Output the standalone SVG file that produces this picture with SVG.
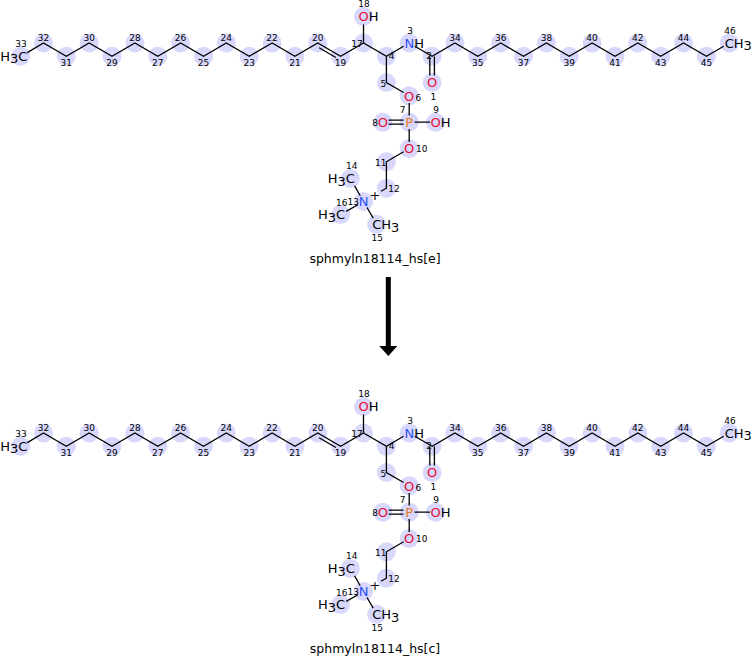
<svg xmlns="http://www.w3.org/2000/svg" width="751" height="656" viewBox="0 0 751 656">
<style>
.hl circle{fill:#d8d8fc}
.bd{fill:none;stroke:#000;stroke-width:1.3;stroke-linejoin:miter}
.at{font-family:"DejaVu Sans","Liberation Sans",sans-serif;font-size:13px;fill:#000}
.am{text-anchor:middle}
.ae{text-anchor:end}
.O{fill:#e60d2e}
.N{fill:#3050f8}
.P{fill:#e87820}
.nm{font-family:"DejaVu Sans","Liberation Sans",sans-serif;font-size:9px;fill:#000;text-anchor:middle}
.lbl{font-family:"DejaVu Sans","Liberation Sans",sans-serif;font-size:12.5px;fill:#000;text-anchor:middle}
</style>
<rect width="751" height="656" fill="#fff"/>

<g id="mol-e">
<g class="hl">
<circle cx="20.6" cy="56.2" r="9.5"/><circle cx="43.5" cy="43" r="9.5"/><circle cx="66.3" cy="56.2" r="9.5"/><circle cx="89.2" cy="43" r="9.5"/><circle cx="112" cy="56.2" r="9.5"/><circle cx="134.9" cy="43" r="9.5"/><circle cx="157.8" cy="56.2" r="9.5"/><circle cx="180.6" cy="43" r="9.5"/><circle cx="203.5" cy="56.2" r="9.5"/><circle cx="226.3" cy="43" r="9.5"/><circle cx="249.2" cy="56.2" r="9.5"/><circle cx="272.1" cy="43" r="9.5"/><circle cx="294.9" cy="56.2" r="9.5"/><circle cx="317.8" cy="43" r="9.5"/><circle cx="340.6" cy="56.2" r="9.5"/><circle cx="363.5" cy="43" r="9.5"/><circle cx="386.4" cy="56.2" r="9.5"/><circle cx="409.2" cy="43" r="9.5"/><circle cx="432.1" cy="56.2" r="9.5"/><circle cx="454.9" cy="43" r="9.5"/><circle cx="477.8" cy="56.2" r="9.5"/><circle cx="500.7" cy="43" r="9.5"/><circle cx="523.5" cy="56.2" r="9.5"/><circle cx="546.4" cy="43" r="9.5"/><circle cx="569.2" cy="56.2" r="9.5"/><circle cx="592.1" cy="43" r="9.5"/><circle cx="615" cy="56.2" r="9.5"/><circle cx="637.8" cy="43" r="9.5"/><circle cx="660.7" cy="56.2" r="9.5"/><circle cx="683.5" cy="43" r="9.5"/><circle cx="706.4" cy="56.2" r="9.5"/><circle cx="729.3" cy="43" r="9.5"/>
<circle cx="363.5" cy="16.6" r="9.5"/><circle cx="386.4" cy="82.6" r="9.5"/><circle cx="409.2" cy="95.8" r="9.5"/><circle cx="432.1" cy="82.6" r="9.5"/><circle cx="409.2" cy="122.2" r="9.5"/><circle cx="382.8" cy="122.2" r="9.5"/><circle cx="435.6" cy="122.2" r="9.5"/><circle cx="409.2" cy="148.6" r="9.5"/><circle cx="386.4" cy="161.8" r="9.5"/><circle cx="386.4" cy="188.2" r="9.5"/><circle cx="363.5" cy="201.4" r="9.5"/><circle cx="350.3" cy="178.5" r="9.5"/><circle cx="340.6" cy="214.6" r="9.5"/><circle cx="376.7" cy="224.3" r="9.5"/>
</g>
<path class="bd" d="M27.3,52.6 L43.5,43 L66.3,56.2 L89.2,43 L112,56.2 L134.9,43 L157.8,56.2 L180.6,43 L203.5,56.2 L226.3,43 L249.2,56.2 L272.1,43 L294.9,56.2 L317.8,43 L340.6,56.2 L363.5,43 L386.4,56.2 L403.6,46.3"/>
<path class="bd" d="M414.8,46.3 L432.1,56.2 L454.9,43 L477.8,56.2 L500.7,43 L523.5,56.2 L546.4,43 L569.2,56.2 L592.1,43 L615,56.2 L637.8,43 L660.7,56.2 L683.5,43 L706.4,56.2 L723.7,46.3"/>
<path class="bd" d="M319.1,47.8 L335.9,57.5 M363.5,43 V24.5 M386.4,56.2 V82.6 L403.6,92.5 M429.8,56.5 V75.5 M434.4,56.5 V75.5 M409.2,103 V115.5 M388.5,120.2 H403.5 M388.5,124.2 H403.5 M414.5,122.2 H430 M409.2,129 V142 M403.6,151.8 L386.4,161.8 V188.2 L381,191.3 M360.2,195.8 L354.6,185.9 M357.9,204.7 L346.2,211.4 M367,207.5 L373.2,218.2"/>
<g class="at">
<text class="ae" x="27.4" y="60.9">H<tspan dy="2.5">3</tspan><tspan dy="-2.5">C</tspan></text>
<text x="724.7" y="47.7">CH<tspan dy="2.5">3</tspan></text>
<text x="358.4" y="21.3"><tspan class="O">O</tspan>H</text>
<text x="404.4" y="47.7"><tspan class="N">N</tspan>H</text>
<text class="am O" x="432.1" y="87.3">O</text>
<text class="am O" x="409.2" y="100.5">O</text>
<text class="am P" x="409.2" y="126.9">P</text>
<text class="am O" x="382.8" y="126.9">O</text>
<text x="430.5" y="126.9"><tspan class="O">O</tspan>H</text>
<text class="am O" x="409.2" y="153.3">O</text>
<text class="am N" x="363.5" y="206.1">N</text>
<text class="am" x="375" y="199.5">+</text>
<text class="ae" x="354.8" y="183.2">H<tspan dy="2.5">3</tspan><tspan dy="-2.5">C</tspan></text>
<text class="ae" x="345.1" y="219.3">H<tspan dy="2.5">3</tspan><tspan dy="-2.5">C</tspan></text>
<text x="372.2" y="229">CH<tspan dy="2.5">3</tspan></text>
</g>
<g class="nm">
<text x="21" y="46.8">33</text>
<text x="43.5" y="40.8">32</text><text x="89.2" y="40.8">30</text><text x="134.9" y="40.8">28</text><text x="180.6" y="40.8">26</text><text x="226.3" y="40.8">24</text><text x="272.1" y="40.8">22</text><text x="317.8" y="40.8">20</text>
<text x="66.3" y="65.8">31</text><text x="112" y="65.8">29</text><text x="157.8" y="65.8">27</text><text x="203.5" y="65.8">25</text><text x="249.2" y="65.8">23</text><text x="294.9" y="65.8">21</text><text x="340.6" y="65.8">19</text>
<text x="357" y="46.6">17</text>
<text x="364" y="6.8">18</text>
<text x="391.5" y="59.3">4</text>
<text x="410" y="34">3</text>
<text x="429" y="59.3">2</text>
<text x="433.3" y="100">1</text>
<text x="383.3" y="86.6">5</text>
<text x="418.3" y="100.5">6</text>
<text x="402.7" y="113.3">7</text>
<text x="375" y="125.6">8</text>
<text x="436" y="113.3">9</text>
<text x="421.7" y="152.3">10</text>
<text x="380.7" y="165.6">11</text>
<text x="394" y="191.6">12</text>
<text x="353.3" y="205">13</text>
<text x="351.7" y="169">14</text>
<text x="377.3" y="240.6">15</text>
<text x="341.7" y="206">16</text>
<text x="455" y="40.8">34</text><text x="500.7" y="40.8">36</text><text x="546.4" y="40.8">38</text><text x="592.1" y="40.8">40</text><text x="637.8" y="40.8">42</text><text x="683.5" y="40.8">44</text>
<text x="477.8" y="65.8">35</text><text x="523.5" y="65.8">37</text><text x="569.2" y="65.8">39</text><text x="615" y="65.8">41</text><text x="660.7" y="65.8">43</text><text x="706.4" y="65.8">45</text>
<text x="730" y="34">46</text>
</g>
<text class="lbl" x="375" y="263">sphmyln18114_hs[e]</text>
</g>

<g id="mol-c" transform="translate(0,390)">
<g class="hl">
<circle cx="20.6" cy="56.2" r="9.5"/><circle cx="43.5" cy="43" r="9.5"/><circle cx="66.3" cy="56.2" r="9.5"/><circle cx="89.2" cy="43" r="9.5"/><circle cx="112" cy="56.2" r="9.5"/><circle cx="134.9" cy="43" r="9.5"/><circle cx="157.8" cy="56.2" r="9.5"/><circle cx="180.6" cy="43" r="9.5"/><circle cx="203.5" cy="56.2" r="9.5"/><circle cx="226.3" cy="43" r="9.5"/><circle cx="249.2" cy="56.2" r="9.5"/><circle cx="272.1" cy="43" r="9.5"/><circle cx="294.9" cy="56.2" r="9.5"/><circle cx="317.8" cy="43" r="9.5"/><circle cx="340.6" cy="56.2" r="9.5"/><circle cx="363.5" cy="43" r="9.5"/><circle cx="386.4" cy="56.2" r="9.5"/><circle cx="409.2" cy="43" r="9.5"/><circle cx="432.1" cy="56.2" r="9.5"/><circle cx="454.9" cy="43" r="9.5"/><circle cx="477.8" cy="56.2" r="9.5"/><circle cx="500.7" cy="43" r="9.5"/><circle cx="523.5" cy="56.2" r="9.5"/><circle cx="546.4" cy="43" r="9.5"/><circle cx="569.2" cy="56.2" r="9.5"/><circle cx="592.1" cy="43" r="9.5"/><circle cx="615" cy="56.2" r="9.5"/><circle cx="637.8" cy="43" r="9.5"/><circle cx="660.7" cy="56.2" r="9.5"/><circle cx="683.5" cy="43" r="9.5"/><circle cx="706.4" cy="56.2" r="9.5"/><circle cx="729.3" cy="43" r="9.5"/>
<circle cx="363.5" cy="16.6" r="9.5"/><circle cx="386.4" cy="82.6" r="9.5"/><circle cx="409.2" cy="95.8" r="9.5"/><circle cx="432.1" cy="82.6" r="9.5"/><circle cx="409.2" cy="122.2" r="9.5"/><circle cx="382.8" cy="122.2" r="9.5"/><circle cx="435.6" cy="122.2" r="9.5"/><circle cx="409.2" cy="148.6" r="9.5"/><circle cx="386.4" cy="161.8" r="9.5"/><circle cx="386.4" cy="188.2" r="9.5"/><circle cx="363.5" cy="201.4" r="9.5"/><circle cx="350.3" cy="178.5" r="9.5"/><circle cx="340.6" cy="214.6" r="9.5"/><circle cx="376.7" cy="224.3" r="9.5"/>
</g>
<path class="bd" d="M27.3,52.6 L43.5,43 L66.3,56.2 L89.2,43 L112,56.2 L134.9,43 L157.8,56.2 L180.6,43 L203.5,56.2 L226.3,43 L249.2,56.2 L272.1,43 L294.9,56.2 L317.8,43 L340.6,56.2 L363.5,43 L386.4,56.2 L403.6,46.3"/>
<path class="bd" d="M414.8,46.3 L432.1,56.2 L454.9,43 L477.8,56.2 L500.7,43 L523.5,56.2 L546.4,43 L569.2,56.2 L592.1,43 L615,56.2 L637.8,43 L660.7,56.2 L683.5,43 L706.4,56.2 L723.7,46.3"/>
<path class="bd" d="M319.1,47.8 L335.9,57.5 M363.5,43 V24.5 M386.4,56.2 V82.6 L403.6,92.5 M429.8,56.5 V75.5 M434.4,56.5 V75.5 M409.2,103 V115.5 M388.5,120.2 H403.5 M388.5,124.2 H403.5 M414.5,122.2 H430 M409.2,129 V142 M403.6,151.8 L386.4,161.8 V188.2 L381,191.3 M360.2,195.8 L354.6,185.9 M357.9,204.7 L346.2,211.4 M367,207.5 L373.2,218.2"/>
<g class="at">
<text class="ae" x="27.4" y="60.9">H<tspan dy="2.5">3</tspan><tspan dy="-2.5">C</tspan></text>
<text x="724.7" y="47.7">CH<tspan dy="2.5">3</tspan></text>
<text x="358.4" y="21.3"><tspan class="O">O</tspan>H</text>
<text x="404.4" y="47.7"><tspan class="N">N</tspan>H</text>
<text class="am O" x="432.1" y="87.3">O</text>
<text class="am O" x="409.2" y="100.5">O</text>
<text class="am P" x="409.2" y="126.9">P</text>
<text class="am O" x="382.8" y="126.9">O</text>
<text x="430.5" y="126.9"><tspan class="O">O</tspan>H</text>
<text class="am O" x="409.2" y="153.3">O</text>
<text class="am N" x="363.5" y="206.1">N</text>
<text class="am" x="375" y="199.5">+</text>
<text class="ae" x="354.8" y="183.2">H<tspan dy="2.5">3</tspan><tspan dy="-2.5">C</tspan></text>
<text class="ae" x="345.1" y="219.3">H<tspan dy="2.5">3</tspan><tspan dy="-2.5">C</tspan></text>
<text x="372.2" y="229">CH<tspan dy="2.5">3</tspan></text>
</g>
<g class="nm">
<text x="21" y="46.8">33</text>
<text x="43.5" y="40.8">32</text><text x="89.2" y="40.8">30</text><text x="134.9" y="40.8">28</text><text x="180.6" y="40.8">26</text><text x="226.3" y="40.8">24</text><text x="272.1" y="40.8">22</text><text x="317.8" y="40.8">20</text>
<text x="66.3" y="65.8">31</text><text x="112" y="65.8">29</text><text x="157.8" y="65.8">27</text><text x="203.5" y="65.8">25</text><text x="249.2" y="65.8">23</text><text x="294.9" y="65.8">21</text><text x="340.6" y="65.8">19</text>
<text x="357" y="46.6">17</text>
<text x="364" y="6.8">18</text>
<text x="391.5" y="59.3">4</text>
<text x="410" y="34">3</text>
<text x="429" y="59.3">2</text>
<text x="433.3" y="100">1</text>
<text x="383.3" y="86.6">5</text>
<text x="418.3" y="100.5">6</text>
<text x="402.7" y="113.3">7</text>
<text x="375" y="125.6">8</text>
<text x="436" y="113.3">9</text>
<text x="421.7" y="152.3">10</text>
<text x="380.7" y="165.6">11</text>
<text x="394" y="191.6">12</text>
<text x="353.3" y="205">13</text>
<text x="351.7" y="169">14</text>
<text x="377.3" y="240.6">15</text>
<text x="341.7" y="206">16</text>
<text x="455" y="40.8">34</text><text x="500.7" y="40.8">36</text><text x="546.4" y="40.8">38</text><text x="592.1" y="40.8">40</text><text x="637.8" y="40.8">42</text><text x="683.5" y="40.8">44</text>
<text x="477.8" y="65.8">35</text><text x="523.5" y="65.8">37</text><text x="569.2" y="65.8">39</text><text x="615" y="65.8">41</text><text x="660.7" y="65.8">43</text><text x="706.4" y="65.8">45</text>
<text x="730" y="34">46</text>
</g>
<text class="lbl" x="375" y="263">sphmyln18114_hs[c]</text>
</g>

<g id="connectors">
<rect x="385.8" y="277" width="5" height="70" fill="#000"/>
<polygon points="379.3,346 397.3,346 388.3,356" fill="#000"/>
</g>
</svg>
